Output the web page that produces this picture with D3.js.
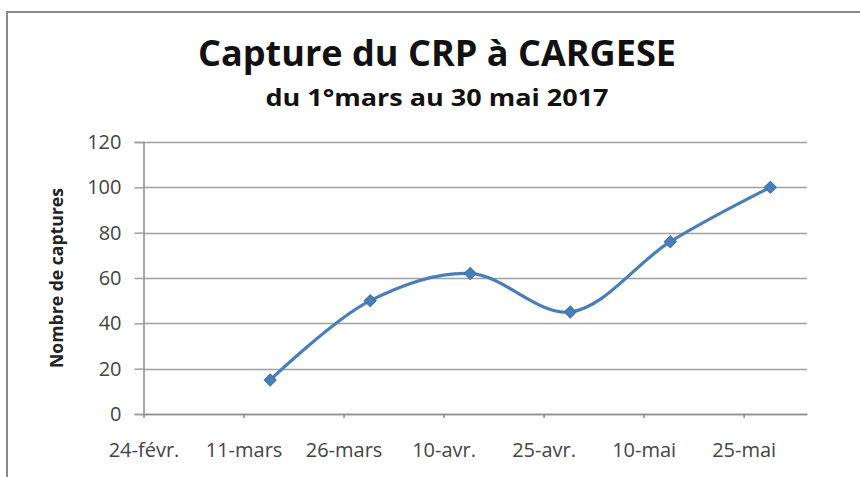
<!DOCTYPE html>
<html>
<head>
<meta charset="utf-8">
<script src="https://cdn.jsdelivr.net/npm/d3@7"></script>
<style>
    body { margin: 0; background: #fff; }
    .tick text { font-family: "Open Sans", sans-serif; font-size: 20px; fill: #444; }
</style>
</head>
<body>
<div id="chart"></div>
<script>

// data
var captureDates = ["2017-03-15", "2017-03-30", "2017-04-14", "2017-04-29", "2017-05-14", "2017-05-29"];
var captureCounts = [15, 50, 62, 45, 76, 100];

var xTickDates = ["2017-02-24", "2017-03-11", "2017-03-26", "2017-04-10", "2017-04-25", "2017-05-10", "2017-05-25"];
var xTickLabels = ["24-févr.", "11-mars", "26-mars", "10-avr.", "25-avr.", "10-mai", "25-mai"];
var yTicks = [0, 20, 40, 60, 80, 100, 120];

var titleText = "Capture du CRP à CARGESE";
var subtitleText = "du 1°mars au 30 mai 2017";
var yAxisText = "Nombre de captures";

var parseDate = d3.utcParse("%Y-%m-%d");

var width = 860, height = 477;
var margin = { top: 142, right: 53, bottom: 63, left: 143.5 };
var plotW = width - margin.left - margin.right,
    plotH = height - margin.top - margin.bottom;

var svg = d3.select("#chart").append("svg")
    .attr("width", width)
    .attr("height", height);

// chart frame
svg.append("rect")
    .attr("x", 7).attr("y", 12)
    .attr("width", 870).attr("height", 500)
    .attr("fill", "#fff")
    .attr("stroke", "#8a8a8a")
    .attr("stroke-width", 2);

// titles
svg.append("text")
    .attr("x", 437).attr("y", 66)
    .attr("text-anchor", "middle")
    .attr("textLength", 478)
    .attr("lengthAdjust", "spacingAndGlyphs")
    .style("font-family", "'Open Sans', sans-serif")
    .style("font-weight", "bold")
    .style("font-size", "36px")
    .style("fill", "#111")
    .text(titleText);

svg.append("text")
    .attr("x", 437).attr("y", 106)
    .attr("text-anchor", "middle")
    .attr("textLength", 343)
    .attr("lengthAdjust", "spacingAndGlyphs")
    .style("font-family", "'Open Sans', sans-serif")
    .style("font-weight", "bold")
    .style("font-size", "24px")
    .style("fill", "#111")
    .text(subtitleText);

var g = svg.append("g")
    .attr("transform", "translate(" + margin.left + "," + margin.top + ")");

// scales
var x = d3.scaleUtc()
    .domain([parseDate("2017-02-24"), d3.utcHour.offset(parseDate("2017-06-03"), 12)])
    .range([0, plotW]);

var y = d3.scaleLinear()
    .domain([0, 120])
    .range([plotH, 0]);

// gridlines
g.selectAll(".grid")
    .data(yTicks)
    .enter().append("line")
    .attr("class", "grid")
    .attr("x1", 0).attr("x2", plotW)
    .attr("y1", function(d) { return Math.round(y(d)) + 0.5; })
    .attr("y2", function(d) { return Math.round(y(d)) + 0.5; })
    .attr("stroke", "#a0a0a0")
    .attr("stroke-width", 1.5);

// y axis
var yAxis = d3.axisLeft(y)
    .tickValues(yTicks)
    .tickSize(9)
    .tickPadding(13);

g.append("g")
    .attr("class", "y-axis")
    .call(yAxis)
    .call(function(a) {
        a.select(".domain").attr("stroke", "#8c8c8c").attr("stroke-width", 1.5);
        a.selectAll(".tick line").attr("stroke", "#a0a0a0").attr("stroke-width", 1.5);
    });

// x axis
var xAxis = d3.axisBottom(x)
    .tickValues(xTickDates.map(parseDate))
    .tickFormat(function(d, i) { return xTickLabels[i]; })
    .tickSizeInner(4)
    .tickSizeOuter(0)
    .tickPadding(25);

g.append("g")
    .attr("class", "x-axis")
    .attr("transform", "translate(0," + plotH + ")")
    .call(xAxis)
    .call(function(a) {
        a.select(".domain").attr("stroke", "#8c8c8c").attr("stroke-width", 1.5);
        a.selectAll(".tick line").attr("stroke", "#8c8c8c").attr("stroke-width", 1.5);
    });

// y axis title
svg.append("text")
    .attr("transform", "translate(63," + (margin.top + plotH / 2) + ") rotate(-90)")
    .attr("text-anchor", "middle")
    .attr("textLength", 180)
    .attr("lengthAdjust", "spacingAndGlyphs")
    .style("font-family", "'Open Sans', sans-serif")
    .style("font-weight", "bold")
    .style("font-size", "18px")
    .style("fill", "#222")
    .text(yAxisText);

// series
var points = captureDates.map(function(d, i) {
    return { date: parseDate(d), value: captureCounts[i] };
});

var line = d3.line()
    .x(function(d) { return x(d.date); })
    .y(function(d) { return y(d.value); })
    .curve(d3.curveCatmullRom.alpha(0.5));

g.append("path")
    .datum(points)
    .attr("d", line)
    .attr("fill", "none")
    .attr("stroke", "#4a7ebb")
    .attr("stroke-width", 3.2);

g.selectAll(".marker")
    .data(points)
    .enter().append("path")
    .attr("class", "marker")
    .attr("d", d3.symbol().type(d3.symbolSquare).size(72))
    .attr("transform", function(d) { return "translate(" + x(d.date) + "," + y(d.value) + ") rotate(45)"; })
    .attr("fill", "#4a7ebb")
    .attr("stroke", "#3f6fa8")
    .attr("stroke-width", 1);

</script>
</body>
</html>
